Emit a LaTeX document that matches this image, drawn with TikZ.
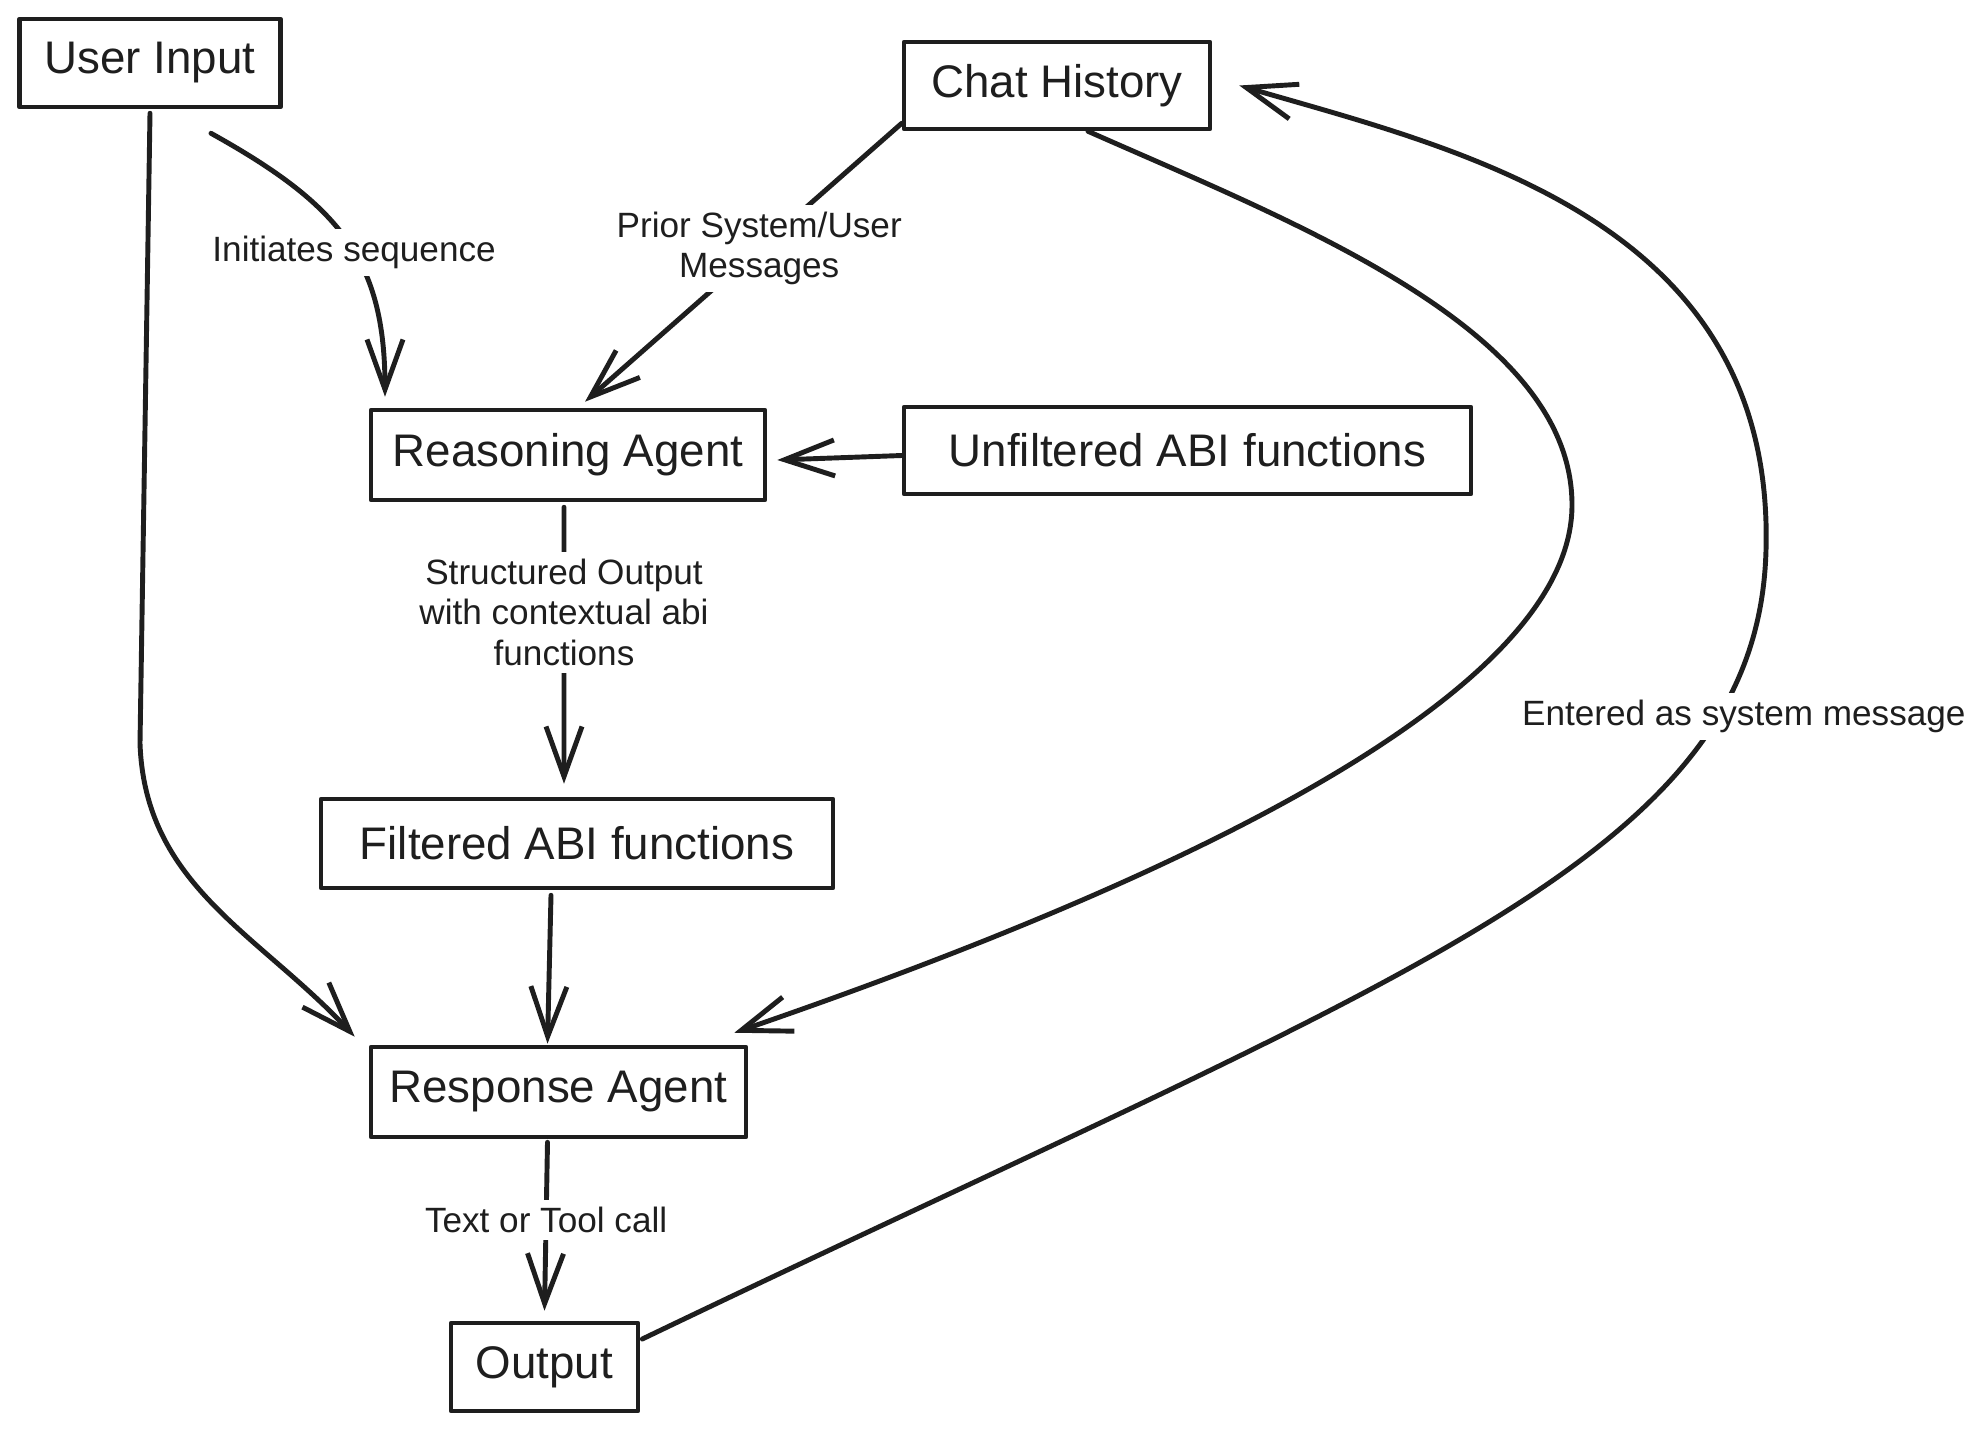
\documentclass[tikz,border=0pt]{standalone}
\usepackage{fontspec}
\setmainfont{Liberation Sans}
\usetikzlibrary{arrows.meta}
\definecolor{ink}{HTML}{1E1E1E}
\begin{document}
\begin{tikzpicture}[
    color=ink, line width=1.4pt, line cap=round, line join=round,
    box/.style={draw=ink, line width=1.3pt, inner sep=0pt, text=ink,
      font=\fontsize{13}{15}\selectfont},
    lbl/.style={fill=white, inner sep=2pt, text=ink, align=center,
      font=\fontsize{10}{11.5}\selectfont},
    arr/.style={-{Straight Barb[length=5mm,width=3.6mm,line width=1.4pt]}}
  ]
  \useasboundingbox (0,0) rectangle (19.8,-14.31);
  \path
    (1.50,-0.63) node[box, minimum width=2.61cm, minimum height=0.88cm] (ui){User Input}
    (10.57,-0.855) node[box, minimum width=3.06cm, minimum height=0.87cm] (ch){Chat History}
    (5.68,-4.55) node[box, minimum width=3.94cm, minimum height=0.90cm] (ra){Reasoning Agent}
    (11.875,-4.505) node[box, minimum width=5.67cm, minimum height=0.87cm] (uf){Unfiltered ABI functions}
    (5.77,-8.435) node[box, minimum width=5.12cm, minimum height=0.89cm] (fa){Filtered ABI functions}
    (5.585,-10.92) node[box, minimum width=3.75cm, minimum height=0.90cm] (resp){Response Agent}
    (5.445,-13.67) node[box, minimum width=1.87cm, minimum height=0.88cm] (out){Output};
  \begin{scope}[arr]
    \draw ([xshift=6.1mm,yshift=-2.4mm]ui.south)
      .. controls (3.4,-2.05) and (3.85,-2.6) .. node[lbl, pos=0.55]{Initiates sequence}
      ([xshift=-18.3mm,yshift=1.1mm]ra.north);
    \draw ([yshift=0.8mm]ch.south west) -- node[lbl, pos=0.45]{Prior System/User\\Messages}
      ([xshift=1.7mm,yshift=0.6mm]ra.north);
    \draw ([yshift=-0.5mm]uf.west) to ([xshift=1mm,yshift=-0.5mm]ra.east);
    \draw ([xshift=-0.4mm,yshift=-0.5mm]ra.south) -- node[lbl, pos=0.38]{Structured Output\\with contextual abi\\functions}
      ([xshift=-1.3mm,yshift=1.3mm]fa.north);
    \draw ([xshift=-2.6mm,yshift=-0.5mm]fa.south) to ([xshift=-1.1mm,yshift=0.1mm]resp.north);
    \draw ([yshift=-0.4mm]ui.south) -- ++(-0.1,-6.3) to[out=-88, in=133]
      ([xshift=-1.4mm,yshift=0.8mm]resp.north west);
    \draw ([xshift=3.1mm]ch.south)
      .. controls (13.0,-2.25) and (15.72,-3.3) .. (15.72,-5.05)
      .. controls (15.72,-7.0) and (11.5,-8.9) .. ([xshift=-1.4mm,yshift=1.2mm]resp.north east);
    \draw ([xshift=-1.1mm,yshift=-0.3mm]resp.south) -- node[lbl, pos=0.46]{Text or Tool call}
      ([yshift=1mm]out.north);
    \draw ([xshift=0.2mm,yshift=2.8mm]out.east)
      .. controls (14.0,-9.75) and (17.58,-8.6) .. node[lbl, pos=0.8, xshift=2.5mm]{Entered as system message} (17.66,-5.5)
      .. controls (17.75,-2.2) and (14.6,-1.5) .. ([xshift=2.7mm]ch.east);
  \end{scope}
\end{tikzpicture}
\end{document}
